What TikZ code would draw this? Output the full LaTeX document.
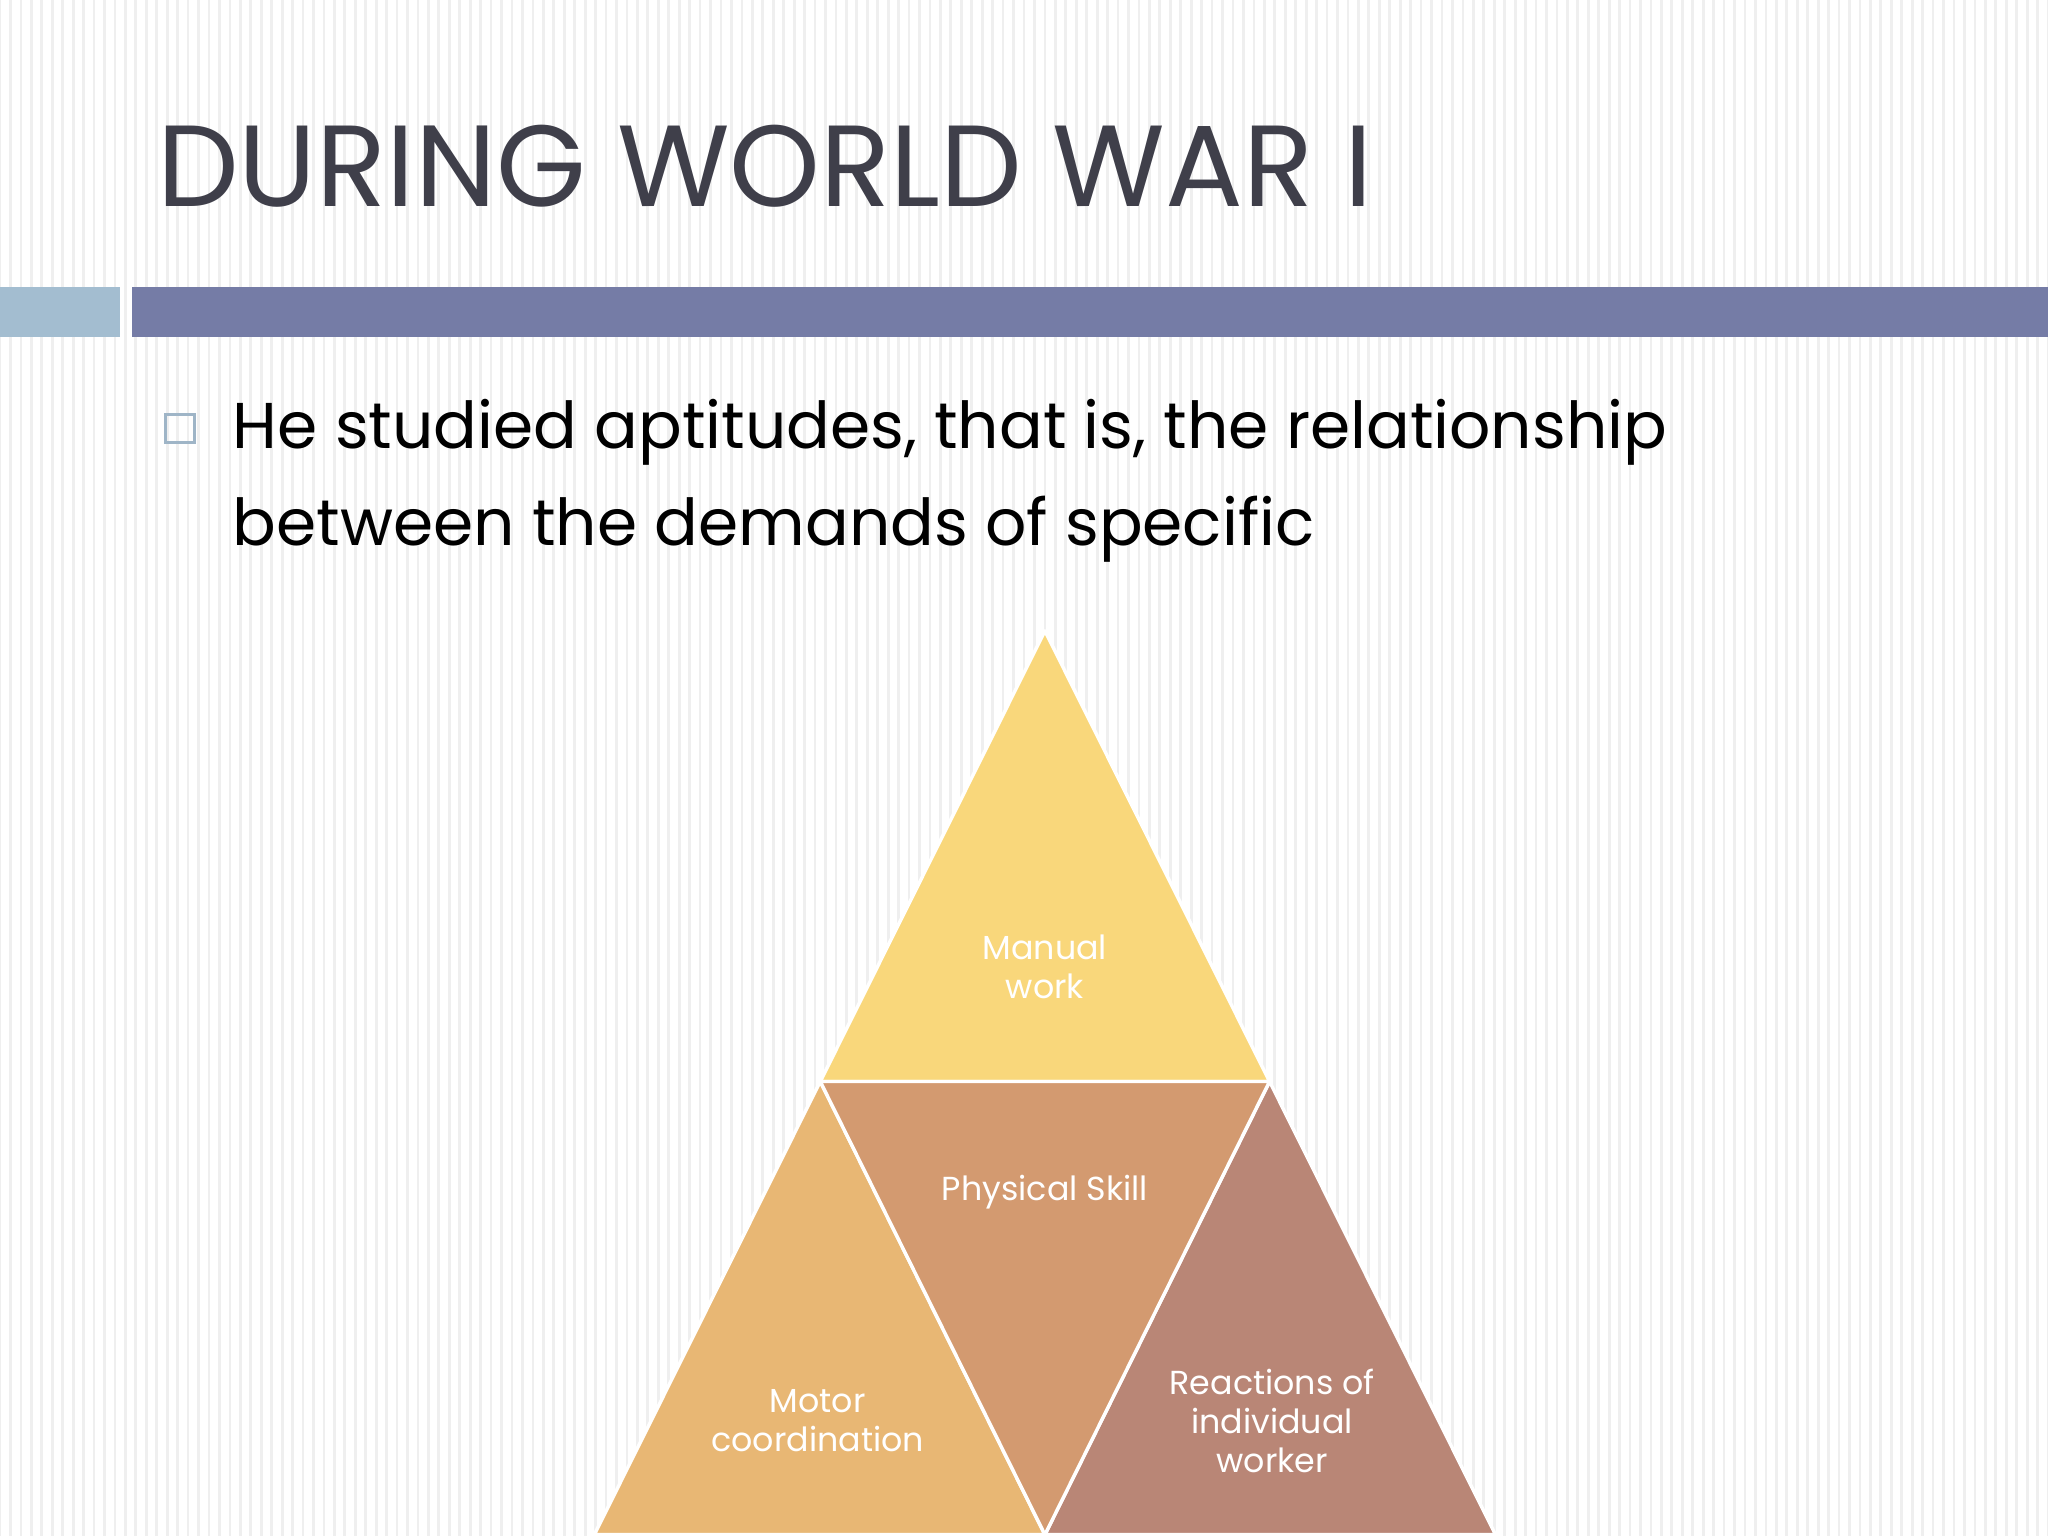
\documentclass[tikz,border=0pt]{standalone}
\usepackage{fontspec}
\setmainfont{Poppins}
\definecolor{ttl}{HTML}{3F3F4A}
\definecolor{barA}{HTML}{A3BDD0}
\definecolor{barB}{HTML}{757CA6}
\definecolor{bul}{HTML}{9FB5C7}
\definecolor{cTop}{HTML}{F9D77B}
\definecolor{cLeft}{HTML}{E8B774}
\definecolor{cMid}{HTML}{D39A70}
\definecolor{cRight}{HTML}{B98676}
\definecolor{stripe}{HTML}{EFEFEF}
\tikzset{tri/.style={draw=white,line width=1.5pt,line join=round},
lbl/.style={text=white,font=\fontsize{14.5}{17}\selectfont,align=center},
bodytxt/.style={anchor=base west,inner sep=0,font=\fontsize{28.2}{40}\selectfont}}
\begin{document}
\begin{tikzpicture}[x=0.02cm,y=-0.02cm]
\useasboundingbox (0,0) rectangle (1568,1176);
\fill[white] (0,0) rectangle (1568,1176);
\foreach \i in {0,8,...,1568} \draw[stripe,line width=1.2pt] (\i,0) -- (\i,1176);
\node[anchor=base west,inner sep=0,text=ttl,font=\fontsize{50.3}{60}\selectfont] (title) at (120,158) {DURING WORLD WAR I};
\fill[barA] (0,220) rectangle (92,258);
\fill[barB] (101,220) rectangle (1568,258);
\draw[bul,line width=1.3pt] (127,317) rectangle (149,339);
\node[bodytxt] (body1) at (178,343) {He studied aptitudes, that is, the relationship};
\node[bodytxt] (body2) at (178,418) {between the demands of specific};
\filldraw[tri,fill=cTop] (800,483) -- (972,828) -- (628,828) -- cycle;
\filldraw[tri,fill=cLeft] (628,828) -- (800,1175) -- (455,1175) -- cycle;
\filldraw[tri,fill=cRight] (972,828) -- (1145,1175) -- (800,1175) -- cycle;
\filldraw[tri,fill=cMid] (628,828) -- (972,828) -- (800,1175) -- cycle;
\node[lbl] (t1) at (800,740) {Manual\\work};
\node[lbl] (t2) at (800,913) {Physical Skill};
\node[lbl] (t3) at (626,1088) {Motor\\coordination};
\node[lbl] (t4) at (974,1088) {Reactions of\\individual\\worker};
\end{tikzpicture}
\end{document}
